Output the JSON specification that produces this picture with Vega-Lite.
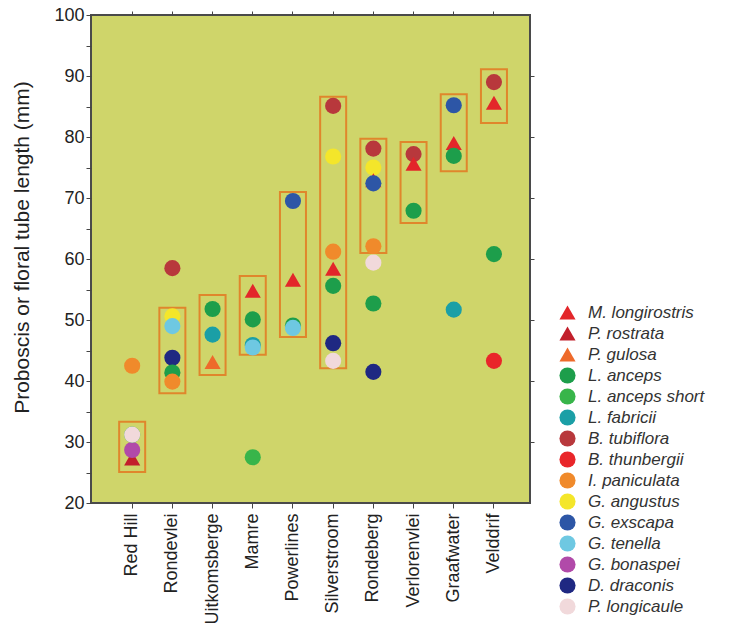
{
  "$schema": "https://vega.github.io/schema/vega-lite/v6.json",
  "width": 439,
  "height": 488,
  "autosize": {"type": "none"},
  "padding": {"left": 91, "top": 15, "right": 202, "bottom": 123},
  "background": "white",
  "config": {
    "font": "Liberation Sans",
    "view": {"fill": "#cfd56a", "stroke": "#4a4a4a", "strokeWidth": 2},
    "axis": {"domain": false, "grid": false, "tickColor": "#444", "labelColor": "#222", "titleColor": "#222", "titleFontWeight": "normal"},
    "legend": {"orient": "none", "legendX": 468, "legendY": 289, "padding": 0, "labelFontSize": 17, "labelFontStyle": "italic", "labelColor": "#333", "rowPadding": 3, "labelOffset": 12, "symbolStrokeWidth": 0, "symbolOpacity": 1, "labelLimit": 300}
  },
  "datasets": {
    "boxes": [
      {"site": "Red Hill", "lo": 25.1, "hi": 33.3},
      {"site": "Rondevlei", "lo": 38.0, "hi": 52.0},
      {"site": "Uitkomsberge", "lo": 41.0, "hi": 54.1},
      {"site": "Mamre", "lo": 44.3, "hi": 57.2},
      {"site": "Powerlines", "lo": 47.2, "hi": 71.0},
      {"site": "Silverstroom", "lo": 42.1, "hi": 86.6},
      {"site": "Rondeberg", "lo": 61.0, "hi": 79.7},
      {"site": "Verlorenvlei", "lo": 65.9, "hi": 79.2},
      {"site": "Graafwater", "lo": 74.4, "hi": 87.0},
      {"site": "Velddrif", "lo": 82.3, "hi": 91.1}
    ],
    "pts": [
      {"site": "Red Hill", "species": "I. paniculata", "value": 42.5},
      {"site": "Red Hill", "species": "P. rostrata", "value": 27.3},
      {"site": "Red Hill", "species": "G. bonaspei", "value": 28.7},
      {"site": "Red Hill", "species": "L. anceps", "value": 31.2},
      {"site": "Red Hill", "species": "P. longicaule", "value": 31.2},
      {"site": "Rondevlei", "species": "B. tubiflora", "value": 58.5},
      {"site": "Rondevlei", "species": "G. angustus", "value": 50.6},
      {"site": "Rondevlei", "species": "G. tenella", "value": 49.0},
      {"site": "Rondevlei", "species": "M. longirostris", "value": 42.3},
      {"site": "Rondevlei", "species": "D. draconis", "value": 43.8},
      {"site": "Rondevlei", "species": "L. anceps", "value": 41.4},
      {"site": "Rondevlei", "species": "I. paniculata", "value": 39.9},
      {"site": "Uitkomsberge", "species": "L. anceps", "value": 51.8},
      {"site": "Uitkomsberge", "species": "L. fabricii", "value": 47.6},
      {"site": "Uitkomsberge", "species": "P. gulosa", "value": 43.1},
      {"site": "Mamre", "species": "M. longirostris", "value": 54.8},
      {"site": "Mamre", "species": "L. anceps", "value": 50.1},
      {"site": "Mamre", "species": "L. fabricii", "value": 45.9},
      {"site": "Mamre", "species": "G. tenella", "value": 45.5},
      {"site": "Mamre", "species": "L. anceps short", "value": 27.5},
      {"site": "Powerlines", "species": "G. exscapa", "value": 69.5},
      {"site": "Powerlines", "species": "M. longirostris", "value": 56.6},
      {"site": "Powerlines", "species": "L. anceps", "value": 49.1},
      {"site": "Powerlines", "species": "G. tenella", "value": 48.7},
      {"site": "Silverstroom", "species": "B. tubiflora", "value": 85.1},
      {"site": "Silverstroom", "species": "G. angustus", "value": 76.8},
      {"site": "Silverstroom", "species": "I. paniculata", "value": 61.2},
      {"site": "Silverstroom", "species": "M. longirostris", "value": 58.4},
      {"site": "Silverstroom", "species": "L. anceps", "value": 55.6},
      {"site": "Silverstroom", "species": "D. draconis", "value": 46.2},
      {"site": "Silverstroom", "species": "P. longicaule", "value": 43.3},
      {"site": "Rondeberg", "species": "B. tubiflora", "value": 78.1},
      {"site": "Rondeberg", "species": "G. angustus", "value": 75.0},
      {"site": "Rondeberg", "species": "M. longirostris", "value": 72.9},
      {"site": "Rondeberg", "species": "G. exscapa", "value": 72.4},
      {"site": "Rondeberg", "species": "I. paniculata", "value": 62.1},
      {"site": "Rondeberg", "species": "P. longicaule", "value": 59.4},
      {"site": "Rondeberg", "species": "L. anceps", "value": 52.7},
      {"site": "Rondeberg", "species": "D. draconis", "value": 41.5},
      {"site": "Verlorenvlei", "species": "B. tubiflora", "value": 77.2},
      {"site": "Verlorenvlei", "species": "M. longirostris", "value": 75.6},
      {"site": "Verlorenvlei", "species": "L. anceps", "value": 67.9},
      {"site": "Graafwater", "species": "G. exscapa", "value": 85.2},
      {"site": "Graafwater", "species": "M. longirostris", "value": 79.0},
      {"site": "Graafwater", "species": "L. anceps", "value": 76.9},
      {"site": "Graafwater", "species": "L. fabricii", "value": 51.7},
      {"site": "Velddrif", "species": "B. tubiflora", "value": 89.0},
      {"site": "Velddrif", "species": "M. longirostris", "value": 85.6},
      {"site": "Velddrif", "species": "L. anceps", "value": 60.8},
      {"site": "Velddrif", "species": "B. thunbergii", "value": 43.3}
    ]
  },
  "resolve": {"axis": {"x": "independent", "y": "independent"}},
  "layer": [
    {
      "data": {"name": "boxes"},
      "mark": {"type": "rect", "fill": "transparent", "stroke": "#e0862c", "strokeWidth": 2},
      "encoding": {
        "x": {
          "field": "site", "type": "nominal",
          "sort": ["Red Hill", "Rondevlei", "Uitkomsberge", "Mamre", "Powerlines", "Silverstroom", "Rondeberg", "Verlorenvlei", "Graafwater", "Velddrif"],
          "scale": {"type": "band", "paddingInner": 0.353, "paddingOuter": 0.637, "align": 0.55},
          "axis": {"title": null, "orient": "bottom", "labelAngle": 270, "labelFontSize": 18, "tickSize": 5, "labelPadding": 5}
        },
        "y": {
          "field": "lo", "type": "quantitative",
          "scale": {"domain": [20, 100], "nice": false, "zero": false},
          "axis": {"title": "Proboscis or floral tube length (mm)", "titleFontSize": 21, "titlePadding": 21, "titleY": 232, "values": [20, 25, 30, 35, 40, 45, 50, 55, 60, 65, 70, 75, 80, 85, 90, 95, 100], "labelExpr": "datum.value % 10 == 0 ? datum.label : ''", "labelFontSize": 18, "tickSize": 5, "labelPadding": 2}
        },
        "y2": {"field": "hi"}
      }
    },
    {
      "data": {"name": "pts"},
      "mark": {"type": "point", "filled": true, "opacity": 1, "strokeWidth": 0},
      "encoding": {
        "x": {
          "field": "site", "type": "nominal",
          "sort": ["Red Hill", "Rondevlei", "Uitkomsberge", "Mamre", "Powerlines", "Silverstroom", "Rondeberg", "Verlorenvlei", "Graafwater", "Velddrif"],
          "axis": {"title": null, "orient": "top", "labels": false, "tickSize": 4}
        },
        "y": {
          "field": "value", "type": "quantitative",
          "axis": {"title": null, "orient": "right", "labels": false, "tickSize": 4, "values": [30, 40, 50, 60, 70, 80, 90]}
        },
        "color": {
          "field": "species", "type": "nominal",
          "scale": {
            "domain": ["M. longirostris", "P. rostrata", "P. gulosa", "L. anceps", "L. anceps short", "L. fabricii", "B. tubiflora", "B. thunbergii", "I. paniculata", "G. angustus", "G. exscapa", "G. tenella", "G. bonaspei", "D. draconis", "P. longicaule"],
            "range": ["#e3262a", "#c21f2b", "#ee6a2b", "#1d9e4b", "#38b54a", "#1b9fa6", "#b8383c", "#e9262a", "#f08a2b", "#f4e62a", "#2d56a6", "#6ec8e2", "#b14aa9", "#1f2882", "#f1d9db"]
          },
          "legend": {"title": null}
        },
        "shape": {
          "field": "species", "type": "nominal",
          "scale": {
            "domain": ["M. longirostris", "P. rostrata", "P. gulosa", "L. anceps", "L. anceps short", "L. fabricii", "B. tubiflora", "B. thunbergii", "I. paniculata", "G. angustus", "G. exscapa", "G. tenella", "G. bonaspei", "D. draconis", "P. longicaule"],
            "range": ["triangle-up", "triangle-up", "triangle-up", "circle", "circle", "circle", "circle", "circle", "circle", "circle", "circle", "circle", "circle", "circle", "circle"]
          },
          "legend": {"title": null}
        },
        "size": {
          "field": "species", "type": "nominal",
          "scale": {
            "domain": ["M. longirostris", "P. rostrata", "P. gulosa", "L. anceps", "L. anceps short", "L. fabricii", "B. tubiflora", "B. thunbergii", "I. paniculata", "G. angustus", "G. exscapa", "G. tenella", "G. bonaspei", "D. draconis", "P. longicaule"],
            "range": [260, 260, 260, 215, 85, 115, 115, 115, 115, 115, 115, 115, 115, 115, 115]
          },
          "legend": {"title": null}
        }
      }
    }
  ]
}
